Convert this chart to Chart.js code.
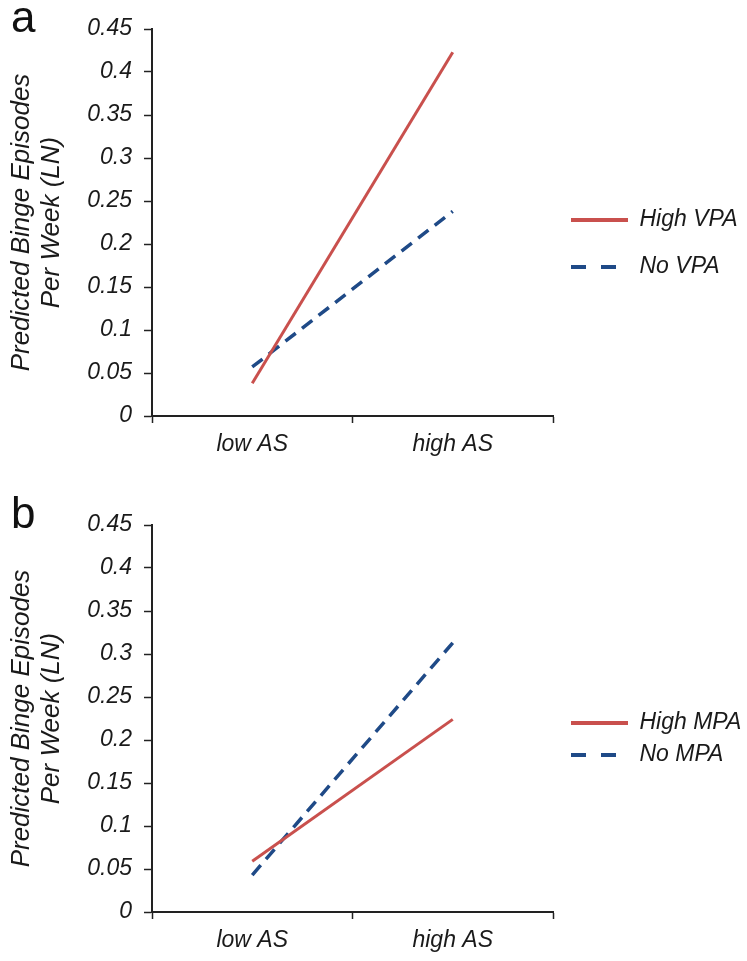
<!DOCTYPE html>
<html>
<head>
<meta charset="utf-8">
<title>Predicted binge episodes</title>
<script src="https://cdn.jsdelivr.net/npm/chart.js@4.4.1/dist/chart.umd.min.js"></script>
<style>
  body { margin: 0; background: #fff; }
  #wrap { position: relative; width: 747px; height: 961px; }
  canvas { display: block; }
  .panel-letter {
    position: absolute;
    left: 11px;
    font-family: "Liberation Sans", Arial, sans-serif;
    font-size: 44px;
    line-height: 44px;
    color: #111;
  }
</style>
</head>
<body>
<div id="wrap">
  <div class="panel-letter" style="top:-5px">a</div>
  <canvas id="chartA" width="747" height="480"></canvas>
  <div class="panel-letter" style="top:491px">b</div>
  <canvas id="chartB" width="747" height="481"></canvas>
</div>
<script>
// Data
const categories = ["low AS", "high AS"];
const highVPA = [0.038, 0.423];
const noVPA = [0.057, 0.238];
const highMPA = [0.059, 0.224];
const noMPA = [0.043, 0.313];
const yTickLabels = ["0", "0.05", "0.1", "0.15", "0.2", "0.25", "0.3", "0.35", "0.4", "0.45"];
const yTitle = ["Predicted Binge Episodes", "Per Week (LN)"];

const FONT = "'Liberation Sans', Arial, sans-serif";
const TEXT = "#1a1a1a";
const RED = "#C9504D";
const BLUE = "#1F4A87";

// legend: wrap text in an array so the row height follows the font lineHeight,
// and give the dashed entry the two long dashes of the original
function legendLabels(chart) {
  const items = Chart.defaults.plugins.legend.labels.generateLabels(chart);
  items.forEach((item) => {
    const ds = chart.data.datasets[item.datasetIndex];
    item.text = [item.text];
    item.lineWidth = 4;
    item.strokeStyle = ds.borderColor;
    if (ds.borderDash && ds.borderDash.length) {
      item.lineDash = [15, 15];
      item.lineDashOffset = 0;
    } else {
      item.lineDash = [];
    }
  });
  return items;
}

// legendShift: empty legend title used as a spacer to push the entries down
function makeOptions(pad, xHeight, legendLine, legendShift) {
  return {
    responsive: false,
    animation: false,
    layout: { padding: pad },
    elements: { point: { radius: 0, hoverRadius: 0 }, line: { tension: 0 } },
    plugins: {
      tooltip: { enabled: false },
      legend: {
        position: "right",
        fullSize: false,
        maxWidth: 194,
        title: { display: true, text: "", padding: 0, font: { size: 10, lineHeight: legendShift + "px" } },
        labels: {
          usePointStyle: true,
          pointStyle: "line",
          pointStyleWidth: 57,
          padding: 18,
          color: TEXT,
          font: { family: FONT, size: 23, style: "italic", lineHeight: legendLine },
          generateLabels: legendLabels,
        },
      },
    },
    scales: {
      x: {
        type: "category",
        offset: true,
        afterFit: (scale) => { scale.height = xHeight; },
        grid: { offset: true, drawOnChartArea: false, tickLength: 7, tickColor: "#222", tickWidth: 1.5 },
        border: { display: true, color: "#222", width: 2 },
        ticks: { color: TEXT, padding: 8, maxRotation: 0, font: { family: FONT, size: 23, style: "italic" } },
      },
      y: {
        min: 0,
        max: 0.45,
        afterFit: (scale) => { scale.width = 152; },
        grid: { drawOnChartArea: false, tickLength: 8, tickColor: "#222", tickWidth: 1.5 },
        border: { display: true, color: "#222", width: 2 },
        ticks: {
          stepSize: 0.05,
          padding: 12,
          color: TEXT,
          font: { family: FONT, size: 23, style: "italic" },
          callback: (value, index) => yTickLabels[index],
        },
        title: {
          display: true,
          text: yTitle,
          color: TEXT,
          padding: { top: 7, bottom: 0 },
          font: { family: FONT, size: 26, style: "italic", lineHeight: 1.15 },
        },
      },
    },
  };
}

function dataset(label, values, color, dashed) {
  return {
    label: label,
    data: values,
    borderColor: color,
    backgroundColor: color,
    borderWidth: dashed ? 3.5 : 3,
    borderDash: dashed ? [13, 8] : [],
    fill: false,
  };
}

// a: VPA
new Chart(document.getElementById("chartA"), {
  type: "line",
  data: {
    labels: categories,
    datasets: [dataset("High VPA", highVPA, RED, false), dataset("No VPA", noVPA, BLUE, true)],
  },
  options: makeOptions({ top: 29, bottom: 16, left: 0, right: 0 }, 48, "29px", 48),
});

// b: MPA
new Chart(document.getElementById("chartB"), {
  type: "line",
  data: {
    labels: categories,
    datasets: [dataset("High MPA", highMPA, RED, false), dataset("No MPA", noMPA, BLUE, true)],
  },
  options: makeOptions({ top: 45, bottom: 5, left: 0, right: 0 }, 44, "14px", 32),
});
</script>
</body>
</html>
